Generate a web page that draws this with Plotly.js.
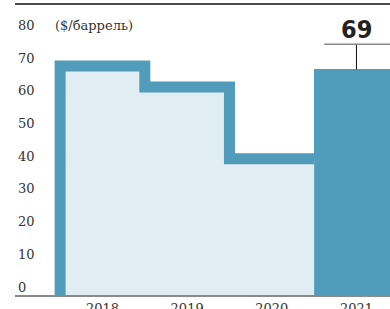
<!DOCTYPE html>
<html>
<head>
<meta charset="utf-8">
<script src="https://cdn.plot.ly/plotly-3.0.1.min.js"></script>
<style>
  html, body { margin: 0; padding: 0; background: #fff; overflow: hidden; }
  #chart { width: 390px; height: 309px; }
  .js-line { stroke-linejoin: miter !important; stroke-linecap: butt !important; }
</style>
</head>
<body>
<div id="chart"></div>
<script>
// ---- data ----
const years = ['2018', '2019', '2020', '2021'];
const pastPrices = [70.0, 63.6, 41.7];      // 2018–2020 averages
const forecastPrice = [69];                 // 2021
const forecastLabel = ['69'];
const yTickValues = [0, 10, 20, 30, 40, 50, 60, 70, 80];
const unitText = '($/баррель)';

// ---- styles ----
const BLUE = '#509cba';
const LIGHT = '#e0edf3';
const TXT = '#333333';
const SERIF = 'DejaVu Serif, Liberation Serif, serif';

const idx = years.map((_, i) => i);

// step outline for past years: edges at i-0.5
const stepX = [idx[0] - 0.5];
const stepY = [0];
pastPrices.forEach((v, i) => { stepX.push(i - 0.5); stepY.push(v); });
stepX.push(pastPrices.length - 0.5);
stepY.push(pastPrices[pastPrices.length - 1]);

const fIdx = idx.slice(pastPrices.length);

const traces = [
  {
    type: 'bar',
    x: fIdx,
    y: forecastPrice,
    width: fIdx.map(() => 1),
    marker: { color: BLUE, line: { width: 0 } },
    hoverinfo: 'skip',
    showlegend: false
  },
  {
    type: 'scatter',
    mode: 'lines',
    x: stepX,
    y: stepY,
    line: { shape: 'hv', color: BLUE, width: 11 },
    fill: 'tozeroy',
    fillcolor: LIGHT,
    hoverinfo: 'skip',
    showlegend: false
  }
];

const calloutGap = 7.7;
const shapes = [
  { type: 'line', xref: 'paper', yref: 'paper', x0: 0, x1: 1, y0: 1, y1: 1,
    line: { color: '#111', width: 1.5 } },
];
const annotations = [
  { xref: 'paper', yref: 'y', x: 0.101, y: yTickValues[yTickValues.length - 1],
    xanchor: 'left', yanchor: 'middle', yshift: 8, showarrow: false,
    text: unitText, font: { family: SERIF, size: 13, color: TXT } }
];
fIdx.forEach((xi, k) => {
  const v = forecastPrice[k];
  shapes.push({ type: 'line', xref: 'x', yref: 'y', x0: xi, x1: xi, y0: v, y1: v + calloutGap,
    line: { color: '#111', width: 1 } });
  shapes.push({ type: 'line', xref: 'x', yref: 'y', x0: xi - 0.38, x1: xi + 0.5, y0: v + calloutGap, y1: v + calloutGap,
    line: { color: '#888', width: 1.5 } });
  annotations.push({ xref: 'x', yref: 'y', x: xi, y: v + calloutGap, xanchor: 'center', yanchor: 'bottom',
    yshift: -2, showarrow: false, text: '<b>' + forecastLabel[k] + '</b>',
    font: { family: '"Liberation Sans Narrow", "DejaVu Sans Condensed", sans-serif', size: 25, color: '#222' } });
});

const layout = {
  width: 390, height: 309,
  margin: { l: 15, r: 0, t: 4, b: 14, pad: 0 },
  paper_bgcolor: '#fff', plot_bgcolor: '#fff',
  showlegend: false,
  bargap: 0,
  xaxis: {
    range: [-1.033, 3.396],
    tickvals: idx, ticktext: years,
    showgrid: false, zeroline: false,
    showline: true, linecolor: '#8a8a8a', linewidth: 2,
    ticks: '', ticklen: 0,
    tickfont: { family: SERIF, size: 13, color: TXT },
    fixedrange: true
  },
  yaxis: {
    range: [0, 89],
    tickvals: yTickValues,
    showgrid: false, zeroline: false, showline: false,
    ticks: '',
    ticklabelposition: 'inside',
    ticklabelshift: -8,
    ticklabelstandoff: 0,
    tickfont: { family: SERIF, size: 13, color: TXT },
    fixedrange: true
  },
  shapes: shapes,
  annotations: annotations
};

Plotly.newPlot('chart', traces, layout, { displayModeBar: false, staticPlot: true });
</script>
</body>
</html>
